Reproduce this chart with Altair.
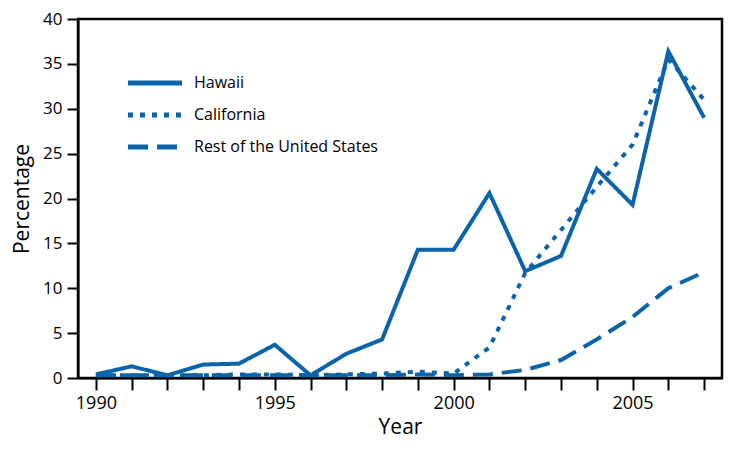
import altair as alt
import pandas as pd

years = list(range(1990, 2008))
hawaii = [0.4, 1.3, 0.3, 1.5, 1.6, 3.7, 0.3, 2.7, 4.3, 14.3, 14.3, 20.6, 11.9, 13.6, 23.3, 19.3, 36.4, 29.0]
california = [0.3, 0.3, 0.3, 0.3, 0.4, 0.4, 0.3, 0.4, 0.5, 0.7, 0.5, 3.4, 11.7, 16.5, 21.3, 26.0, 35.5, 31.0]
rest_us = [0.3, 0.3, 0.3, 0.3, 0.3, 0.3, 0.3, 0.3, 0.3, 0.4, 0.3, 0.4, 0.9, 2.0, 4.3, 6.8, 10.0, 11.8]
series = ["Hawaii", "California", "Rest of the United States"]

rows = []
for name, vals in zip(series, [hawaii, california, rest_us]):
    for y, v in zip(years, vals):
        rows.append({"Year": y, "Percentage": v, "Region": name})
df = pd.DataFrame(rows)

FONT = "Open Sans"
BLUE = "#0a63ab"

chart = alt.Chart(df).mark_line(color=BLUE, strokeWidth=4, strokeCap="butt", strokeJoin="miter").encode(
    x=alt.X("Year:Q",
            scale=alt.Scale(domain=[1989.5, 2007.5], nice=False, zero=False),
            axis=alt.Axis(values=years, labelExpr="datum.value % 5 == 0 ? datum.value : ''",
                          tickSize=12, tickWidth=2, domainWidth=2, domainColor="black", tickColor="black",
                          labelFontSize=18, labelPadding=4, labelColor="black",
                          titleFontSize=21, titlePadding=4, titleColor="black", titleFontWeight="normal",
                          grid=False, labelFlush=False)),
    y=alt.Y("Percentage:Q",
            scale=alt.Scale(domain=[0, 40], nice=False),
            axis=alt.Axis(values=[0, 5, 10, 15, 20, 25, 30, 35, 40],
                          tickSize=11, tickWidth=2, domainWidth=2, domainColor="black", tickColor="black",
                          labelFontSize=17, labelPadding=5, labelColor="black",
                          titleFontSize=21, titlePadding=10, titleColor="black", titleFontWeight="normal",
                          grid=False)),
    strokeDash=alt.StrokeDash("Region:N",
                              scale=alt.Scale(domain=series, range=[[1, 0], [5, 7], [20, 9]]),
                              legend=alt.Legend(title=None, orient="none", legendX=61, legendY=48,
                                                symbolType="M-2,0H2", symbolSize=729, symbolStrokeWidth=5,
                                                symbolStrokeColor=BLUE, labelFontSize=16, labelOffset=23,
                                                labelColor="black", rowPadding=6, padding=0, labelLimit=400)),
    order=alt.Order("Year:Q"),
).properties(
    width=644, height=359,
    autosize=alt.AutoSizeParams(type="none"),
    padding={"left": 70, "top": 11, "right": 5, "bottom": 80},
).configure(font=FONT).configure_view(stroke="black", strokeWidth=2.5)

chart.save("out.html", embed_options={"renderer": "svg", "actions": False})
